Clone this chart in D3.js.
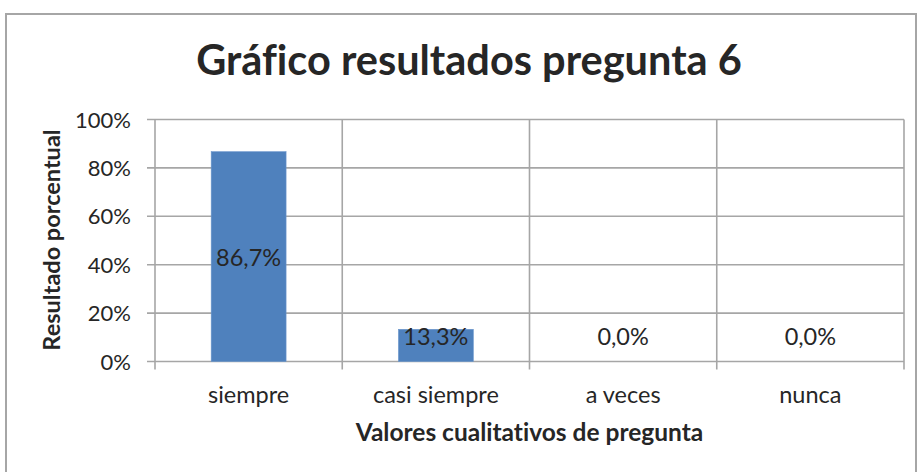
<!DOCTYPE html>
<html><head><meta charset="utf-8">
<script src="https://cdn.jsdelivr.net/npm/d3@7"></script>
<style>body{margin:0;background:#fff;}svg{display:block;font-family:Lato,"Open Sans",sans-serif;font-variant-ligatures:none;}</style>
</head><body>
<svg id="c" width="917" height="472"></svg>
<script>
const categories = ["siempre","casi siempre","a veces","nunca"];
const values = [86.7, 13.3, 0.0, 0.0];
const yTicks = [0,20,40,60,80,100];
const title = "Gráfico resultados pregunta 6";
const xTitle = "Valores cualitativos de pregunta";
const yTitle = "Resultado porcentual";

const svg = d3.select("#c");
const m = {left:155, right:904, top:119.5, bottom:361.5};
const ink = "#262626";

// chart frame
svg.append("rect").attr("x",6).attr("y",14).attr("width",910).attr("height",520)
  .attr("fill","#fff").attr("stroke","#A6A6A6").attr("stroke-width",2);

const x = d3.scaleBand().domain(categories).range([m.left,m.right]).paddingInner(0.6).paddingOuter(0.3);
const y = d3.scaleLinear().domain([0,100]).range([m.bottom,m.top]);
const xb = d3.scaleBand().domain(categories).range([m.left,m.right]);

// horizontal gridlines
svg.append("g").selectAll("line").data(yTicks).join("line")
  .attr("x1",m.left-8).attr("x2",m.right).attr("y1",d=>y(d)).attr("y2",d=>y(d))
  .attr("stroke","#A6A6A6").attr("stroke-width",1.6);
// vertical gridlines at category boundaries
const bounds = categories.map(c=>xb(c)).concat([m.right]);
svg.append("g").selectAll("line").data(bounds).join("line")
  .attr("x1",d=>d).attr("x2",d=>d).attr("y1",m.top).attr("y2",m.bottom+8)
  .attr("stroke","#A6A6A6").attr("stroke-width",1.6);

// bars
svg.append("g").selectAll("rect").data(values).join("rect")
  .attr("x",(d,i)=>x(categories[i])).attr("width",x.bandwidth())
  .attr("y",d=>y(d)).attr("height",d=>y(0)-y(d))
  .attr("fill","#4F81BD").attr("stroke","#6A96CC").attr("stroke-width",0.6);

// y tick labels
svg.append("g").selectAll("text").data(yTicks).join("text")
  .attr("x",131).attr("y",d=>y(d)+8).attr("text-anchor","end")
  .attr("font-size",22).attr("fill",ink).text(d=>d+"%");

// category labels
svg.append("g").selectAll("text").data(categories).join("text")
  .attr("x",d=>xb(d)+xb.bandwidth()/2).attr("y",403).attr("text-anchor","middle")
  .attr("font-size",23.5).attr("fill",ink).text(d=>d);

// data labels
const fmt = v => v.toFixed(1).replace(".",",")+"%";
svg.append("g").selectAll("text").data(values).join("text")
  .attr("x",(d,i)=>xb(categories[i])+xb.bandwidth()/2)
  .attr("y",d=>Math.min((y(d)+y(0))/2, y(0)-26)+9).attr("text-anchor","middle")
  .attr("font-size",23.5).attr("fill",ink).text(fmt);

// titles
svg.append("text").attr("x",469).attr("y",75).attr("text-anchor","middle")
  .attr("font-size",41.5).attr("font-weight","bold").attr("fill",ink).text(title);
svg.append("text").attr("x",529.5).attr("y",441).attr("text-anchor","middle")
  .attr("font-size",24.5).attr("font-weight","bold").attr("fill",ink).text(xTitle);
svg.append("text").attr("transform","translate(60,240) rotate(-90)").attr("text-anchor","middle")
  .attr("font-size",23.5).attr("font-weight","bold").attr("fill",ink).text(yTitle);
</script>
</body></html>
